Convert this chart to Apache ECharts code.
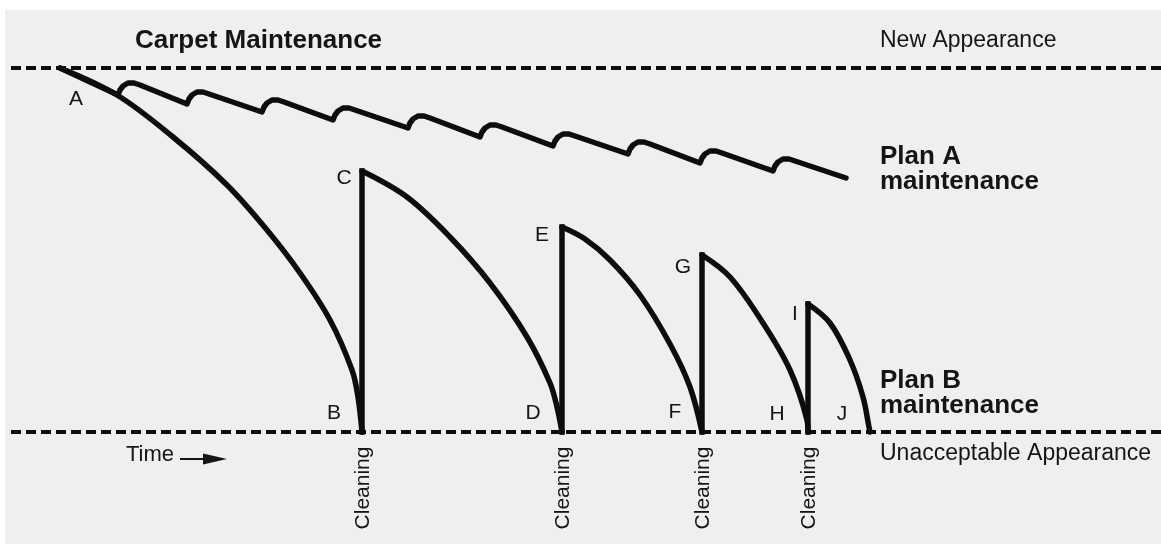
<!DOCTYPE html>
<html>
<head>
<meta charset="utf-8">
<script src="https://cdn.jsdelivr.net/npm/echarts@6/dist/echarts.min.js"></script>
<style>
html,body{margin:0;padding:0;background:#fff;}
#chart{width:1161px;height:544px;}
</style>
</head>
<body>
<div id="chart"></div>
<script>
// ---- data (time units along x, appearance level along y; 364 = new, 0 = unacceptable) ----
const newAppearanceLevel = 364;
const unacceptableLevel = 0;
const timeStart = 11;
const timeEnd = 1161;

// Plan A: frequent light maintenance
const planA = [
  [60,364],[118,337],[120,342],[123,346],[128,349],[134,349],[140,347],
  [187,328],[189,333],[192,337],[197,340],[203,340],[209,338],
  [262,320],[264,325],[267,329],[272,332],[278,332],[284,330],
  [333,312],[335,317],[338,321],[343,324],[349,324],[355,322],
  [408,304],[410,309],[413,313],[418,316],[424,316],[430,314],
  [480,295],[482,300],[485,304],[490,307],[496,307],[502,305],
  [553,286],[555,291],[558,295],[563,298],[569,298],[575,296],
  [628,278],[630,283],[633,287],[638,290],[644,290],[650,288],
  [700,269],[702,274],[705,278],[710,281],[716,281],[722,279],
  [773,261],[775,266],[778,270],[783,273],[789,273],[795,271],
  [846,254]
];

// Plan B: decline between cleanings
const planB_AB = [[60,364],[117,337],[173,295],[227,247],[267,202],[300,159],[330,112],[352,62],[358,35],[362,0]];
const planB_CD = [[362,261],[407,235],[450,195],[490,149],[527,95],[550,49],[557,25],[562,0]];
const planB_EF = [[562,205],[585,193],[610,172],[640,137],[670,88],[690,45],[702,0]];
const planB_GH = [[702,177],[730,155],[763,109],[790,62],[807,12],[808,0]];
const planB_IJ = [[808,128],[830,109],[850,72],[863,35],[869,5],[870,0]];

// Cleanings (time) and restored level after each cleaning
const cleaningTimes = [362, 562, 702, 808];
const cleaningLevels = [261, 205, 177, 128];
const cleaningLabel = 'Cleaning';

const pointLetters = ['A','B','C','D','E','F','G','H','I','J'];
const letterPos = [[76,99],[334,413],[344,178],[533,413],[542,235],[675,412],[683,267],[777,414],[795,314],[842,414]];

const chart = echarts.init(document.getElementById('chart'));
const INK = '#0d0d0d';
const curveStyle = {color: INK, width: 5.5, cap: 'round', join: 'round'};
const dashStyle = {color: INK, width: 4, type: [10, 5], cap: 'butt'};

const series = [
  {type:'line', name:'New Appearance', data:[[timeStart,newAppearanceLevel],[timeEnd,newAppearanceLevel]],
   symbol:'none', lineStyle:dashStyle, clip:false, silent:true, z:1},
  {type:'line', name:'Unacceptable Appearance', data:[[timeStart,unacceptableLevel],[timeEnd,unacceptableLevel]],
   symbol:'none', lineStyle:dashStyle, clip:false, silent:true, z:1},
  {type:'line', name:'Plan A', data:planA, smooth:false, symbol:'none', lineStyle:curveStyle, clip:false, z:3}
];
[planB_AB, planB_CD, planB_EF, planB_GH, planB_IJ].forEach((seg, i) => {
  series.push({type:'line', name:'Plan B ' + i, data:seg, smooth:0.35,
    symbol:'none', lineStyle:curveStyle, clip:false, z:3});
});
cleaningTimes.forEach((t, i) => {
  series.push({type:'line', name:'Cleaning ' + i, data:[[t,unacceptableLevel],[t,cleaningLevels[i]]],
    symbol:'none', lineStyle:{color: INK, width: 5.5, cap:'square'}, clip:false, z:3});
});

chart.setOption({
  backgroundColor: '#efefef',
  animation: false,
  grid: {left:0, right:0, top:68, bottom:112},
  xAxis: {type:'value', min:0, max:1161, show:false},
  yAxis: {type:'value', min:0, max:364, show:false},
  series: series
});

const FF = '"Liberation Sans", Arial, Helvetica, sans-serif';
const TXT = '#151515';
function txt(text, x, y, size, weight, opts) {
  return Object.assign({
    type:'text', x:x, y:y, silent:true, z:10,
    style:{text:text, fontSize:size, fontFamily:FF, fontWeight:weight||'normal', fill:TXT,
           align:'left', verticalAlign:'middle'}
  }, opts || {});
}
const g = [
  {type:'rect', shape:{x:0,y:0,width:1161,height:10}, style:{fill:'#ffffff'}, silent:true, z:0},
  {type:'rect', shape:{x:0,y:0,width:5,height:544}, style:{fill:'#ffffff'}, silent:true, z:0},
  txt('Carpet Maintenance', 135, 41, 26, 'bold'),
  txt('New Appearance', 880, 41, 23),
  txt('Plan A', 880, 157, 26, 'bold'),
  txt('maintenance', 880, 182, 26, 'bold'),
  txt('Plan B', 880, 381, 26, 'bold'),
  txt('maintenance', 880, 406, 26, 'bold'),
  txt('Unacceptable Appearance', 880, 454, 23),
  txt('Time', 126, 455, 22),
  {type:'line', shape:{x1:180,y1:459,x2:206,y2:459}, style:{stroke:TXT, lineWidth:2}, silent:true, z:10},
  {type:'polygon', shape:{points:[[203,453.5],[227,459],[203,464.5]]}, style:{fill:TXT}, silent:true, z:10}
];
cleaningTimes.forEach(t => {
  const p = chart.convertToPixel({gridIndex:0}, [t, unacceptableLevel]);
  const el = txt(cleaningLabel, p[0] + 1, 488, 21, 'normal', {rotation: Math.PI/2});
  el.style.align = 'center';
  g.push(el);
});
pointLetters.forEach((l, i) => {
  const el = txt(l, letterPos[i][0], letterPos[i][1], 21);
  el.style.align = 'center';
  g.push(el);
});
chart.setOption({graphic: {elements: g}});
</script>
</body>
</html>
